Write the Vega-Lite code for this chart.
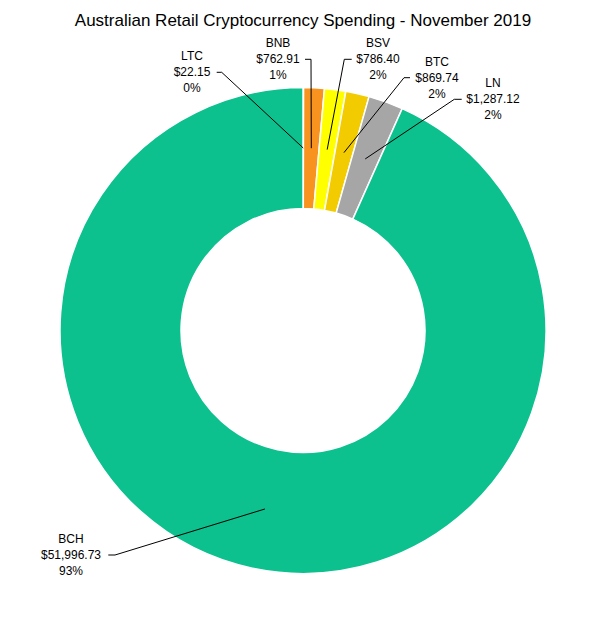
{
  "$schema": "https://vega.github.io/schema/vega-lite/v6.json",
  "autosize": {"type": "none"},
  "padding": {"top": 35, "left": 0, "right": 0, "bottom": 0},
  "width": 606,
  "height": 591,
  "background": "white",
  "title": {
    "text": "Australian Retail Cryptocurrency Spending - November 2019",
    "font": "Liberation Sans",
    "fontSize": 17,
    "fontWeight": "normal",
    "color": "#000000",
    "anchor": "middle",
    "offset": 5
  },
  "config": {"view": {"stroke": null}},
  "data": {
    "values": [
      {"coin": "LTC", "amount": 22.15, "pct": 0, "order": 1},
      {"coin": "BNB", "amount": 762.91, "pct": 1, "order": 2},
      {"coin": "BSV", "amount": 786.40, "pct": 2, "order": 3},
      {"coin": "BTC", "amount": 869.74, "pct": 2, "order": 4},
      {"coin": "LN", "amount": 1287.12, "pct": 2, "order": 5},
      {"coin": "BCH", "amount": 51996.73, "pct": 93, "order": 6}
    ]
  },
  "transform": [
    {"joinaggregate": [{"op": "sum", "field": "amount", "as": "total"}]},
    {"window": [{"op": "sum", "field": "amount", "as": "cum"}], "sort": [{"field": "order"}], "frame": [null, 0]},
    {"calculate": "2 * PI * (datum.cum - datum.amount / 2) / datum.total", "as": "mid"},
    {"calculate": "182.5 * sin(datum.mid)", "as": "px"},
    {"calculate": "182.5 * cos(datum.mid)", "as": "py"},
    {"calculate": "{LTC: -111, BNB: -25, BSV: 75, BTC: 134, LN: 190, BCH: -232}[datum.coin]", "as": "lx"},
    {"calculate": "{LTC: 258.2, BNB: 271.2, BSV: 271.2, BTC: 252.8, LN: 231.2, BCH: -224.5}[datum.coin]", "as": "ly"},
    {"calculate": "{LTC: -86.3, BNB: 2, BSV: 48.7, BTC: 107, LN: 158.7, BCH: -194.7}[datum.coin]", "as": "sx"},
    {"calculate": "{LTC: -81.3, BNB: 8, BSV: 41.3, BTC: 101, LN: 151.3, BCH: -188}[datum.coin]", "as": "ex"},
    {"calculate": "[datum.coin, format(datum.amount, '$,.2f'), datum.pct + '%']", "as": "lines"}
  ],
  "layer": [
    {
      "mark": {"type": "arc", "outerRadius": 243, "innerRadius": 122, "stroke": "white", "strokeWidth": 1.5},
      "encoding": {
        "theta": {"field": "amount", "type": "quantitative", "stack": true},
        "order": {"field": "order", "type": "quantitative"},
        "color": {
          "field": "coin",
          "type": "nominal",
          "legend": null,
          "scale": {
            "domain": ["LTC", "BNB", "BSV", "BTC", "LN", "BCH"],
            "range": ["#C0504D", "#F7931E", "#FFFF00", "#F2CC00", "#A6A6A6", "#0CC18E"]
          }
        }
      }
    },
    {
      "mark": {"type": "rule", "color": "#000000", "strokeWidth": 1},
      "encoding": {
        "x": {"field": "sx", "type": "quantitative", "scale": {"domain": [-303, 303], "nice": false, "zero": false}, "axis": null},
        "x2": {"field": "ex"},
        "y": {"field": "ly", "type": "quantitative", "scale": {"domain": [-295.5, 295.5], "nice": false, "zero": false}, "axis": null},
        "y2": {"field": "ly"}
      }
    },
    {
      "mark": {"type": "rule", "color": "#000000", "strokeWidth": 1},
      "encoding": {
        "x": {"field": "ex", "type": "quantitative"},
        "x2": {"field": "px"},
        "y": {"field": "ly", "type": "quantitative"},
        "y2": {"field": "py"}
      }
    },
    {
      "mark": {"type": "text", "font": "Liberation Sans", "fontSize": 12, "lineHeight": 16, "align": "center", "baseline": "middle", "dy": -16, "color": "#000000"},
      "encoding": {
        "x": {"field": "lx", "type": "quantitative"},
        "y": {"field": "ly", "type": "quantitative"},
        "text": {"field": "lines"}
      }
    }
  ]
}
